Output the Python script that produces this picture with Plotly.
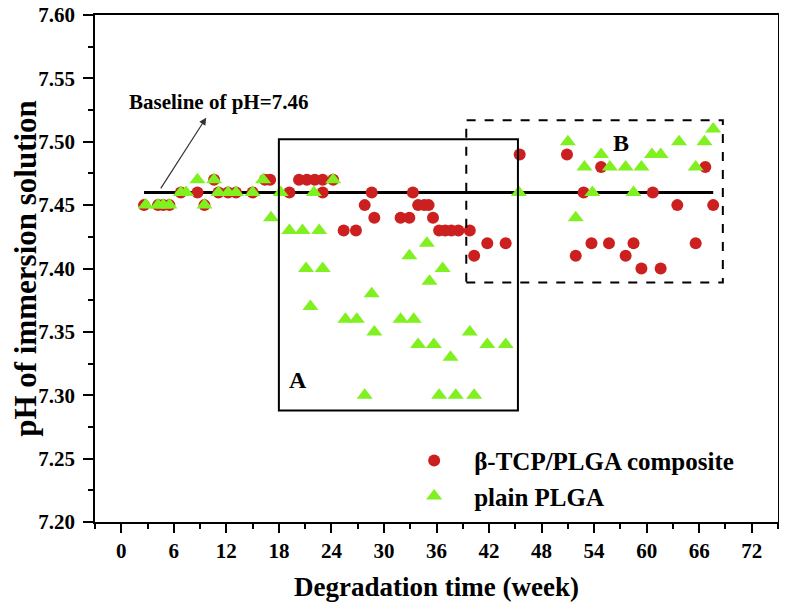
import plotly.graph_objects as go

# degradation time (week) and pH readings
composite_week = [2.6, 4.2, 4.8, 5.5, 6.8, 8.7, 9.5, 10.6, 11.1, 12.2, 13.1, 15.0,
                  16.4, 17.0, 19.2, 20.3, 21.2, 22.1, 23.0, 23.0, 24.2, 25.4, 26.8,
                  27.8, 28.6, 28.9, 31.9, 32.9, 33.3, 33.9, 34.6, 35.1, 35.6, 36.3,
                  37.0, 37.7, 38.5, 39.8, 40.3, 41.8, 43.9, 45.5, 50.9, 51.9, 52.8,
                  53.7, 54.8, 55.7, 57.6, 58.5, 59.4, 60.7, 61.6, 63.5, 65.6, 66.7, 67.6]
composite_ph = [7.45, 7.45, 7.45, 7.45, 7.46, 7.46, 7.45, 7.47, 7.46, 7.46, 7.46, 7.46,
                7.47, 7.47, 7.46, 7.47, 7.47, 7.47, 7.47, 7.46, 7.47, 7.43, 7.43,
                7.45, 7.46, 7.44, 7.44, 7.44, 7.46, 7.45, 7.45, 7.45, 7.44, 7.43,
                7.43, 7.43, 7.43, 7.43, 7.41, 7.42, 7.42, 7.49, 7.49, 7.41, 7.46,
                7.42, 7.48, 7.42, 7.41, 7.42, 7.40, 7.46, 7.40, 7.45, 7.42, 7.48, 7.45]

plga_week = [2.8, 4.2, 4.8, 5.5, 6.8, 7.4, 8.7, 9.5, 10.6, 11.1, 12.2, 13.1, 15.0,
             16.2, 17.1, 18.2, 19.2, 20.7, 21.1, 21.6, 22.0, 22.6, 23.0, 24.2, 25.6,
             26.9, 27.8, 28.6, 28.9, 31.9, 32.9, 33.4, 33.9, 34.9, 35.2, 35.7, 36.3,
             36.7, 37.6, 38.2, 39.8, 40.3, 41.8, 43.9, 45.4, 51.0, 51.9, 52.9, 53.8,
             54.8, 55.8, 57.6, 58.5, 59.4, 60.6, 61.6, 63.7, 65.6, 66.6, 67.6]
plga_ph = [7.45, 7.45, 7.45, 7.45, 7.46, 7.46, 7.47, 7.45, 7.47, 7.46, 7.46, 7.46, 7.46,
           7.47, 7.44, 7.46, 7.43, 7.43, 7.40, 7.37, 7.46, 7.43, 7.40, 7.47, 7.36,
           7.36, 7.30, 7.38, 7.35, 7.36, 7.41, 7.36, 7.34, 7.42, 7.39, 7.34, 7.30,
           7.40, 7.33, 7.30, 7.35, 7.30, 7.34, 7.34, 7.46, 7.50, 7.44, 7.48, 7.46,
           7.49, 7.48, 7.48, 7.46, 7.48, 7.49, 7.49, 7.50, 7.48, 7.50, 7.51]

baseline_ph = 7.46
baseline_weeks = [2.6, 67.6]
box_a = [18.0, 45.3, 7.288, 7.502]   # x0, x1, y0, y1
box_b = [39.4, 68.7, 7.389, 7.517]

x_ticks = list(range(0, 73, 6))
y_ticks = [7.20, 7.25, 7.30, 7.35, 7.40, 7.45, 7.50, 7.55, 7.60]

FONT = "Liberation Serif, Times New Roman, serif"

fig = go.Figure()

fig.add_trace(go.Scatter(
    x=baseline_weeks, y=[baseline_ph] * 2, mode='lines',
    line=dict(color='black', width=3), showlegend=False, hoverinfo='skip'))

fig.add_trace(go.Scatter(
    x=composite_week, y=composite_ph, mode='markers', name='β-TCP/PLGA composite',
    marker=dict(symbol='circle', size=12, color='#CC2020', line=dict(width=0))))

fig.add_trace(go.Scatter(
    x=plga_week, y=plga_ph, mode='markers', name='plain PLGA',
    marker=dict(symbol='triangle-up', size=14, color='#80F020', line=dict(width=0))))

# boxes A and B
fig.add_shape(type='rect', x0=box_a[0], x1=box_a[1], y0=box_a[2], y1=box_a[3],
              line=dict(color='black', width=2))
fig.add_shape(type='rect', x0=box_b[0], x1=box_b[1], y0=box_b[2], y1=box_b[3],
              line=dict(color='black', width=2, dash='dash'))

fig.add_annotation(x=20.2, y=7.312, text='A', showarrow=False,
                   font=dict(family=FONT, size=24, color='black', weight='bold'))
fig.add_annotation(x=57.1, y=7.499, text='B', showarrow=False,
                   font=dict(family=FONT, size=24, color='black', weight='bold'))

# baseline label with arrow
fig.add_annotation(x=9.7, y=7.519, ax=4.4, ay=7.462, axref='x', ayref='y',
                   text='', showarrow=True, arrowhead=2, arrowsize=1.2,
                   arrowwidth=1.2, arrowcolor='#333')
fig.add_annotation(x=11.1, y=7.531, text='Baseline of pH=7.46', showarrow=False,
                   font=dict(family=FONT, size=21, color='black', weight='bold'))

axis_font = dict(family=FONT, size=21, color='black', weight='bold')

fig.update_xaxes(
    range=[-3, 75], tickvals=x_ticks, ticks='outside', ticklen=9, tickwidth=1.5,
    tickcolor='black', tickfont=axis_font, showgrid=False, zeroline=False,
    showline=True, linecolor='black', linewidth=1.5, mirror=True, automargin=False,
    minor=dict(dtick=3, tick0=0, ticks='outside', ticklen=5, tickwidth=1.5, tickcolor='black'),
    title=dict(text='Degradation time (week)',
               font=dict(family=FONT, size=27, color='black', weight='bold')))

fig.update_yaxes(
    range=[7.20, 7.60], tickvals=y_ticks, tickformat='.2f', ticks='outside', ticklen=10,
    tickwidth=1.5, tickcolor='black', tickfont=axis_font, showgrid=False, zeroline=False,
    showline=True, linecolor='black', linewidth=1.5, mirror=True, automargin=False,
    ticklabelstandoff=4, ticklabeloverflow='allow',
    minor=dict(dtick=0.025, tick0=7.2, ticks='outside', ticklen=5, tickwidth=1.5, tickcolor='black'),
    title=dict(text='pH of immersion solution',
               font=dict(family=FONT, size=31, color='black', weight='bold')))

# the page body adds an 8px offset, so margins are shifted to compensate
fig.update_layout(
    width=787, height=604,
    margin=dict(l=87, r=17, t=7, b=90),
    paper_bgcolor='white', plot_bgcolor='white',
    legend=dict(x=0.438, y=0.166, xanchor='left', yanchor='top', itemwidth=70,
                bgcolor='rgba(0,0,0,0)', tracegroupgap=0,
                font=dict(family=FONT, size=25, color='black', weight='bold')),
)

fig.write_html("out.html")
